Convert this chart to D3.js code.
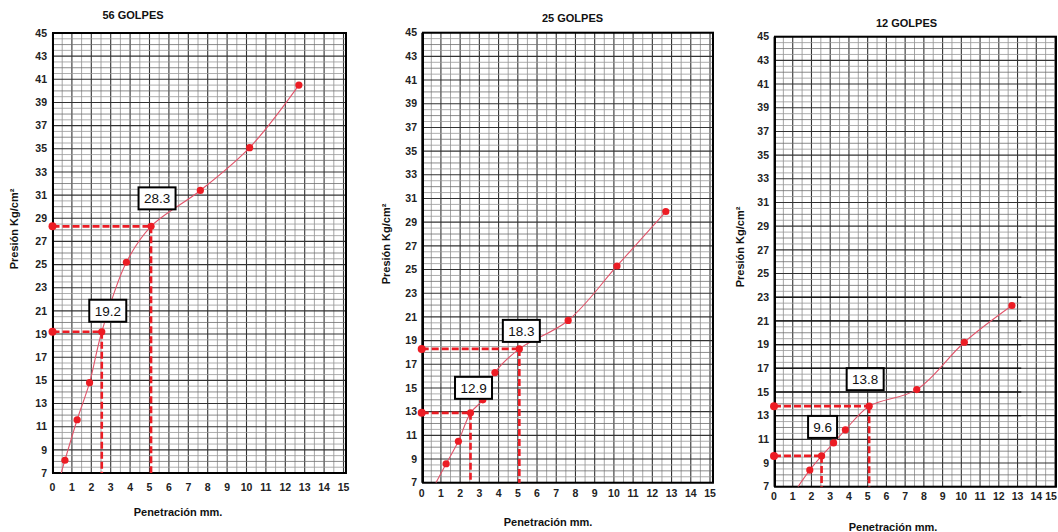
<!DOCTYPE html>
<html>
<head>
<meta charset="utf-8">
<script src="https://cdn.jsdelivr.net/npm/d3@7"></script>
<style>
  html, body { margin: 0; padding: 0; background: #fff; }
  svg { display: block; font-family: "Liberation Sans", Arial, sans-serif; }
</style>
</head>
<body>
<svg id="chart" width="1058" height="532"></svg>
<script>
// ---------- DATA ----------
const panelTitles = ["56 GOLPES", "25 GOLPES", "12 GOLPES"];
const xTickValues = [0,1,2,3,4,5,6,7,8,9,10,11,12,13,14,15];
const yTickValues = [7,9,11,13,15,17,19,21,23,25,27,29,31,33,35,37,39,41,43,45];
const xAxisTitle = "Penetración mm.";
const yAxisTitle = "Presión Kg/cm²";

// penetration (mm) and pressure (kg/cm2)
const pen56  = [0.64, 1.27, 1.91, 2.54, 3.81, 5.08, 7.62, 10.16, 12.70];
const pres56 = [8.1, 11.6, 14.8, 19.2, 25.2, 28.3, 31.4, 35.1, 40.5];
const pen25  = [1.27, 1.91, 2.54, 3.18, 3.81, 5.08, 7.62, 10.16, 12.70];
const pres25 = [8.6, 10.5, 12.9, 14.0, 16.3, 18.3, 20.7, 25.3, 29.9];
const pen12  = [1.91, 2.54, 3.18, 3.81, 5.08, 7.62, 10.16, 12.70];
const pres12 = [8.4, 9.6, 10.7, 11.8, 13.8, 15.2, 19.2, 22.3];

// where each drawn curve leaves the bottom axis (mm, kg/cm2)
const curveStart56 = [0.45, 7];
const curveStart25 = [0.74, 7];
const curveStart12 = [1.28, 7];

// reference penetrations and the pressures read there
const markPen = [2.54, 5.08];
const marks56 = [19.2, 28.3];
const marks25 = [12.9, 18.3];
const marks12 = [9.6, 13.8];

// ---------- LAYOUT (pixels) ----------
const W = 1058;
const layouts = [
  { x0: 52.5, x15: 343.5, frameL: 53,  frameR: 346,  top: 33,   bottom: 473,
    titleX: 133, titleY: 19, xtY: 490.5, xTitleX: 178, xTitleY: 515.5, yTitleX: 18, yTitleY: 229,
    labelOff: [[6, -21], [6, -28]] },
  { x0: 421.7, x15: 710, frameL: 423, frameR: 713, top: 32.7, bottom: 482.7,
    titleX: 572.5, titleY: 22, xtY: 497, xTitleX: 548, xTitleY: 525.5, yTitleX: 390, yTitleY: 244,
    labelOff: [[3, -25], [2, -18]] },
  { x0: 774, x15: 1055, frameL: 775, frameR: 1056, top: 36.7, bottom: 486.7,
    titleX: 906.5, titleY: 27, xtY: 500, xTitleX: 893, xTitleY: 530.5, yTitleX: 744, yTitleY: 247,
    labelOff: [[1, -29], [-4, -27]], heavyBand: { from: 13, to: 23, xMax: 13.2 } }
];

const panels = [
  { pen: pen56, pres: pres56, start: curveStart56, marks: marks56 },
  { pen: pen25, pres: pres25, start: curveStart25, marks: marks25 },
  { pen: pen12, pres: pres12, start: curveStart12, marks: marks12 }
];

const RED = "#ec1c24";
const LINE = "#e2546a";

const svg = d3.select("#chart");

panels.forEach((p, i) => {
  const L = layouts[i];
  const x = d3.scaleLinear().domain([0, 15]).range([L.x0, L.x15]);
  const y = d3.scaleLinear().domain([7, 45]).range([L.bottom, L.top]);
  const g = svg.append("g");
  const clipId = "clip" + i;
  g.append("clipPath").attr("id", clipId).append("rect")
    .attr("x", L.frameL).attr("y", L.top).attr("width", L.frameR - L.frameL).attr("height", L.bottom - L.top);

  // grid
  const grid = g.append("g");
  const minorX = d3.range(0, 15.01, 0.5);
  const minorY = d3.range(7, 45.01, 0.5);
  grid.selectAll(".vx").data(minorX).join("line")
    .attr("x1", d => x(d)).attr("x2", d => x(d)).attr("y1", L.top).attr("y2", L.bottom)
    .attr("stroke", d => Number.isInteger(d) ? "#333" : "#8e8e8e")
    .attr("stroke-width", d => Number.isInteger(d) ? 1.1 : 0.8);
  grid.selectAll(".hy").data(minorY).join("line")
    .attr("y1", d => y(d)).attr("y2", d => y(d)).attr("x1", L.frameL).attr("x2", L.frameR)
    .attr("stroke", d => (Number.isInteger(d) && d % 2 === 1) ? "#333" : (Number.isInteger(d) ? "#6e6e6e" : "#999"))
    .attr("stroke-width", d => (Number.isInteger(d) && d % 2 === 1) ? 1.1 : 0.8);
  if (L.heavyBand) {
    const hb = L.heavyBand;
    grid.selectAll(".hb").data(yTickValues.filter(v => v >= hb.from && v <= hb.to)).join("line")
      .attr("y1", d => y(d)).attr("y2", d => y(d)).attr("x1", L.frameL).attr("x2", x(hb.xMax))
      .attr("stroke", "#1a1a1a").attr("stroke-width", 1.4);
  }

  // frame
  g.append("rect").attr("x", L.frameL).attr("y", L.top)
    .attr("width", L.frameR - L.frameL).attr("height", L.bottom - L.top)
    .attr("fill", "none").attr("stroke", "#000").attr("stroke-width", 2);

  // y ticks labels
  g.selectAll(".yt").data(yTickValues).join("text")
    .attr("x", L.frameL - 6).attr("y", d => y(d)).attr("dy", "0.35em")
    .attr("text-anchor", "end").attr("font-size", 10.5).attr("font-weight", "bold").attr("fill", "#222")
    .text(d => d);
  // x tick labels
  g.selectAll(".xt").data(xTickValues).join("text")
    .attr("x", d => Math.min(x(d), W - 7)).attr("y", L.xtY)
    .attr("text-anchor", "middle").attr("font-size", 10.5).attr("font-weight", "bold").attr("fill", "#222")
    .text(d => d);

  // titles
  g.append("text").attr("x", L.titleX).attr("y", L.titleY).attr("text-anchor", "middle")
    .attr("font-size", 11).attr("font-weight", "bold").attr("fill", "#111").text(panelTitles[i]);
  g.append("text").attr("x", L.xTitleX).attr("y", L.xTitleY).attr("text-anchor", "middle")
    .attr("font-size", 11).attr("font-weight", "bold").attr("fill", "#111").text(xAxisTitle);
  g.append("text").attr("transform", `translate(${L.yTitleX},${L.yTitleY}) rotate(-90)`)
    .attr("text-anchor", "middle").attr("font-size", 11).attr("font-weight", "bold").attr("fill", "#111")
    .text(yAxisTitle);

  // curve
  const pts = [p.start].concat(p.pen.map((v, k) => [v, p.pres[k]]));
  const line = d3.line().x(d => x(d[0])).y(d => y(d[1])).curve(d3.curveCatmullRom.alpha(0.5));
  g.append("path").attr("d", line(pts)).attr("fill", "none")
    .attr("stroke", LINE).attr("stroke-width", 1.1).attr("clip-path", `url(#${clipId})`);

  // dashed reference lines
  markPen.forEach((mp, k) => {
    const v = p.marks[k];
    g.append("line").attr("x1", x(0)).attr("x2", x(mp)).attr("y1", y(v)).attr("y2", y(v))
      .attr("stroke", RED).attr("stroke-width", 2.6).attr("stroke-dasharray", "7,3");
    g.append("line").attr("x1", x(mp)).attr("x2", x(mp)).attr("y1", y(v)).attr("y2", y(7))
      .attr("stroke", RED).attr("stroke-width", 2.6).attr("stroke-dasharray", "7,3");
    g.append("circle").attr("cx", x(0)).attr("cy", y(v)).attr("r", 4).attr("fill", RED);
  });

  // dots
  g.selectAll(".pt").data(p.pen.map((v, k) => [v, p.pres[k]])).join("circle")
    .attr("cx", d => x(d[0])).attr("cy", d => y(d[1])).attr("r", 3.6).attr("fill", RED);

  // value boxes
  markPen.forEach((mp, k) => {
    const v = p.marks[k];
    const cx = x(mp) + L.labelOff[k][0], cy = y(v) + L.labelOff[k][1];
    const bw = v >= 10 ? 37 : 29, bh = 22;
    g.append("rect").attr("x", cx - bw / 2).attr("y", cy - bh / 2).attr("width", bw).attr("height", bh)
      .attr("fill", "#fff").attr("stroke", "#000").attr("stroke-width", 2);
    g.append("text").attr("x", cx).attr("y", cy).attr("dy", "0.36em").attr("text-anchor", "middle")
      .attr("font-size", 13.5).attr("fill", "#111").text(v.toFixed(1));
  });
});
</script>
</body>
</html>
